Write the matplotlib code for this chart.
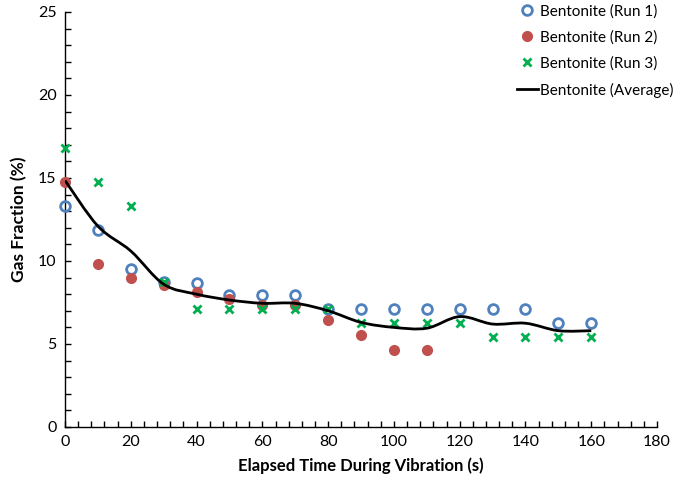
import numpy as np
import matplotlib
matplotlib.use("Agg")
import matplotlib.pyplot as plt
from matplotlib.path import Path
from matplotlib.patches import PathPatch
from matplotlib.ticker import MultipleLocator

plt.rcParams["font.family"] = ["Lato", "DejaVu Sans"]

# data
time_s = [0, 10, 20, 30, 40, 50, 60, 70, 80, 90, 100, 110, 120, 130, 140, 150, 160]
run1 = [13.3, 11.85, 9.5, 8.75, 8.7, 7.95, 7.95, 7.95, 7.1, 7.1, 7.1, 7.1, 7.1, 7.1, 7.1, 6.25, 6.25]
run2_time = [0, 10, 20, 30, 40, 50, 60, 70, 80, 90, 100, 110]
run2 = [14.75, 9.8, 8.95, 8.55, 8.15, 7.7, 7.35, 7.35, 6.45, 5.55, 4.65, 4.65]
run3 = [16.8, 14.75, 13.3, 8.75, 7.1, 7.1, 7.1, 7.1, 7.1, 6.25, 6.25, 6.25, 6.25, 5.4, 5.4, 5.4, 5.4]
average = [14.85, 12.1, 10.6, 8.6, 8.0, 7.65, 7.45, 7.45, 7.0, 6.3, 6.0, 5.95, 6.65, 6.2, 6.25, 5.8, 5.8]


def smooth_path(xs, ys, tension=1 / 6):
    # Excel-style smoothed line as cubic Bezier segments
    pts = np.column_stack([xs, ys]).astype(float)
    verts = [pts[0]]
    codes = [Path.MOVETO]
    n = len(pts)
    for i in range(n - 1):
        p0 = pts[i - 1] if i > 0 else pts[i]
        p1 = pts[i]
        p2 = pts[i + 1]
        p3 = pts[i + 2] if i + 2 < n else pts[i + 1]
        c1 = p1 + (p2 - p0) * tension
        c2 = p2 - (p3 - p1) * tension
        verts += [c1, c2, p2]
        codes += [Path.CURVE4] * 3
    return Path(verts, codes)


fig = plt.figure(figsize=(6.78, 4.9), dpi=100)
ax = fig.add_axes([0.0959, 0.1286, 0.8732, 0.847])

ax.plot(time_s, run1, linestyle="none", marker="o", markersize=7,
        markerfacecolor="none", markeredgecolor="#4F81BD", markeredgewidth=2,
        label="Bentonite (Run 1)", zorder=3, clip_on=False)
ax.plot(run2_time, run2, linestyle="none", marker="o", markersize=7,
        color="#C0504D", label="Bentonite (Run 2)", zorder=3, clip_on=False)
ax.plot(time_s, run3, linestyle="none", marker="x", markersize=6,
        markeredgecolor="#00B050", markeredgewidth=2,
        label="Bentonite (Run 3)", zorder=3, clip_on=False)

ax.add_patch(PathPatch(smooth_path(time_s, average), facecolor="none",
                       edgecolor="black", linewidth=2, zorder=4))
ax.plot([], [], color="black", linewidth=2, label="Bentonite (Average)")

ax.set_xlim(0, 180)
ax.set_ylim(0, 25)
ax.xaxis.set_major_locator(MultipleLocator(20))
ax.xaxis.set_minor_locator(MultipleLocator(4))
ax.yaxis.set_major_locator(MultipleLocator(5))
ax.yaxis.set_minor_locator(MultipleLocator(1))
ax.tick_params(which="both", direction="in", length=4, width=1, labelsize=11.5, pad=6)

for side in ["top", "right"]:
    ax.spines[side].set_visible(False)
for side in ["left", "bottom"]:
    ax.spines[side].set_linewidth(1)

ax.set_xlabel("Elapsed Time During Vibration (s)", fontsize=12, fontweight="bold", labelpad=6)
ax.set_ylabel("Gas Fraction (%)", fontsize=12.5, fontweight="bold", labelpad=8)

fig.legend(loc="upper left", bbox_to_anchor=(0.762, 0.992), frameon=False, fontsize=11,
           borderpad=0, borderaxespad=0, handlelength=1.4, handletextpad=0.15,
           labelspacing=0.78)

fig.savefig("out.png", dpi=100)
